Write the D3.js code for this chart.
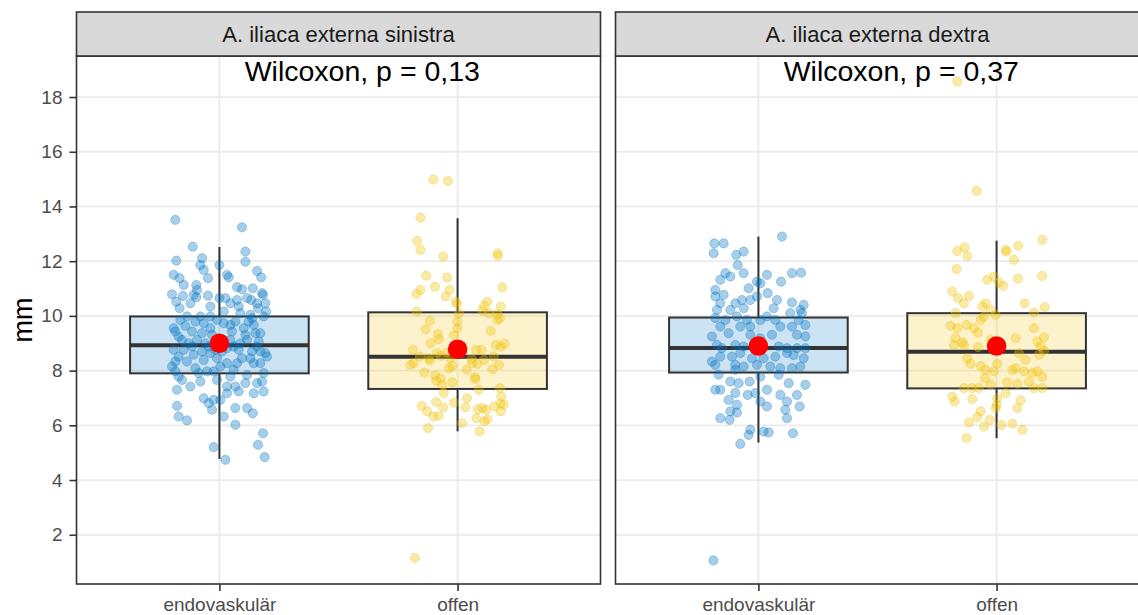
<!DOCTYPE html>
<html>
<head>
<meta charset="utf-8">
<script src="https://cdn.jsdelivr.net/npm/d3@7"></script>
<style>
  body { margin: 0; background: #fff; }
  svg { display: block; font-family: "Liberation Sans", Arial, sans-serif; }
</style>
</head>
<body>
<svg id="chart" width="1138" height="615"></svg>
<script>
// facets, groups, labels
const facets = ['A. iliaca externa sinistra', 'A. iliaca externa dextra'];
const categories = ['endovaskulär', 'offen'];
const pLabels = ['Wilcoxon, p = 0,13', 'Wilcoxon, p = 0,37'];
const yTicks = [2, 4, 6, 8, 10, 12, 14, 16, 18];
const groupColors = ['#0073C2', '#EFC000'];

// box stats: [lower whisker, q1, median, q3, upper whisker, mean]
const sinEndoStats = [4.77, 7.90, 8.93, 9.98, 12.52, 9.00];
const sinOffenStats = [5.78, 7.33, 8.51, 10.13, 13.57, 8.78];
const dexEndoStats = [5.37, 7.93, 8.83, 9.94, 12.90, 8.90];
const dexOffenStats = [5.53, 7.35, 8.69, 10.10, 12.75, 8.90];

// jittered observations: [jitter (category units), mm]
const sinEndo = [
  [-0.185,13.51],[0.095,13.24],[-0.112,12.53],[0.109,12.35],[0.109,11.98],[-0.181,12.02],[-0.073,12.11],[-0.08,11.86],[-0.066,11.68],[0,11.86],
  [-0.192,11.5],[-0.167,11.38],[0.032,11.5],[0.039,11.41],[0.158,11.64],[0.175,11.41],[-0.048,11.38],[-0.097,11.13],[-0.199,10.79],[-0.153,10.73],
  [-0.108,10.77],[-0.097,10.68],[-0.048,10.74],[0,10.65],[0.025,10.65],[0.074,11.05],[0.095,10.97],[0.14,11.01],[0.179,10.83],[0.183,10.77],
  [-0.181,10.52],[-0.167,10.28],[0.074,10.58],[0.081,10.34],[0.116,10.65],[0.134,10.58],[0.158,10.46],[0.162,10.28],[0.193,10.46],[0.196,10.16],
  [0.13,10.04],[0.137,9.91],[0.186,9.98],[-0.136,9.98],[-0.08,9.98],[-0.038,9.98],[0.018,10.16],[-0.192,9.55],[-0.185,9.43],[-0.171,9.24],
  [-0.143,9.63],[-0.115,9.43],[-0.073,9.37],[-0.038,9.55],[-0.031,9.31],[-0.066,9.73],[0.018,9.73],[0.046,9.67],[0.067,9.79],[0.102,9.55],
  [0.123,9.79],[0.144,9.67],[0.151,9.37],[0.165,9.06],[-0.192,8.76],[-0.185,8.33],[-0.15,8.76],[-0.115,8.88],[-0.108,8.58],[-0.073,8.7],
  [-0.059,9.0],[-0.038,8.64],[-0.017,8.76],[0.011,8.7],[0.046,9.12],[0.06,8.88],[0.081,8.76],[0.088,9.0],[0.116,9.12],[0.137,8.7],
  [0.172,8.7],[0.193,8.64],[0.158,8.88],[-0.185,7.97],[-0.171,7.78],[-0.157,7.66],[-0.087,7.91],[-0.052,7.97],[-0.024,7.97],[0.004,8.15],
  [0.046,7.78],[0.074,8.27],[0.116,7.84],[0.144,8.27],[0.172,8.27],[0.186,7.91],[-0.178,7.3],[-0.122,7.42],[-0.08,7.6],[-0.01,7.66],
  [0.032,7.42],[0.067,7.42],[0.081,7.24],[0.109,7.54],[0.144,7.17],[0.158,7.54],[0.179,7.6],[0.186,7.24],[-0.066,6.99],[-0.045,6.81],
  [-0.024,6.93],[-0.031,6.57],[0.004,6.93],[0.032,7.17],[0.018,6.32],[0.067,6.63],[0.116,6.63],[0.14,6.44],[-0.178,6.71],[-0.171,6.32],
  [-0.136,6.18],[0.067,6.02],[0.183,5.71],[0.162,5.29],[0.19,4.84],[-0.024,5.2],[0.025,4.74],
  [-0.157,9.12],[-0.129,9.0],[-0.094,9.12],[-0.045,8.88],[0.032,8.82],[0.053,9.43],[0.109,9.31],[0.172,9.37],[-0.171,8.51],[-0.136,8.33],
  [-0.066,8.39],[-0.01,8.45],[0.032,8.27],[0.095,8.45],[0.13,8.45],[0.2,8.51],[-0.199,8.15],[-0.101,8.09],[0.06,8.03],[-0.164,9.85],
  [-0.101,9.79],[-0.01,9.85],[0.088,10.1],[0.046,10.46],[-0.122,10.46],[-0.038,10.34],[-0.094,10.95],[-0.15,11.13]
];
const sinOffen = [
  [-0.102,14.99],[-0.041,14.93],[-0.156,13.59],[-0.17,12.74],[-0.156,12.41],[-0.06,12.17],[0.169,12.29],[0.169,12.19],[-0.132,11.47],[-0.044,11.4],
  [-0.095,11.07],[0.188,11.04],[-0.156,10.95],[-0.172,10.8],[-0.034,10.95],[-0.05,10.71],[-0.008,10.52],[-0.001,10.44],[-0.172,10.16],[0.125,10.52],
  [0.111,10.37],[0.104,10.2],[0.132,10.1],[0.167,10.06],[0.181,10.34],[0.167,9.85],[0.178,9.91],[-0.116,9.82],[-0.134,9.51],[-0.001,9.79],
  [0.006,10.1],[0.139,9.45],[-0.083,9.33],[-0.079,9.15],[-0.113,9.0],[-0.015,9.29],[-0.188,8.76],[-0.158,8.52],[-0.121,8.45],[-0.116,8.37],
  [-0.071,8.54],[-0.044,8.66],[-0.03,8.45],[0.078,8.76],[0.1,8.76],[0.16,8.94],[0.181,8.88],[0.197,8.98],[0.059,8.43],[0.111,8.39],
  [0.083,8.24],[-0.198,8.21],[-0.036,8.09],[-0.022,8.17],[0.038,8.03],[0.146,8.05],[0.174,8.21],[-0.139,7.93],[-0.095,7.83],[-0.071,7.72],
  [-0.09,7.63],[-0.022,7.57],[0.073,7.76],[0.075,7.69],[0.089,7.3],[0.178,7.36],[0.183,7.05],[-0.151,6.71],[-0.128,6.51],[-0.102,6.32],
  [-0.079,6.35],[-0.09,6.85],[-0.06,6.66],[-0.015,6.83],[0.04,6.99],[0.033,6.66],[0.085,6.59],[0.104,6.63],[0.12,6.57],[0.155,6.69],
  [0.181,6.79],[0.194,6.75],[0.181,6.51],[0.079,6.26],[0.113,6.14],[0.125,6.22],[0.019,6.08],[-0.124,5.9],[0.093,5.78],[-0.064,7.48],
  [-0.058,7.18],[-0.001,9.55],[-0.184,8.27],[-0.086,8.64],[0.061,8.27],[0.152,8.52],[-0.179,1.15]
];
const dexEndo = [
  [0.099,12.9],[-0.185,12.65],[-0.146,12.65],[-0.188,12.29],[-0.093,12.23],[-0.062,12.35],[-0.087,11.86],[-0.062,11.56],[-0.139,11.56],[-0.16,11.32],
  [-0.118,11.44],[0.036,11.5],[0.095,11.25],[0.141,11.56],[0.179,11.58],[-0.006,11.25],[0.008,11.19],[-0.041,11.01],[-0.181,10.95],[-0.181,10.71],
  [-0.146,10.77],[0.039,10.83],[-0.034,10.58],[-0.069,10.58],[-0.097,10.46],[0.141,10.49],[0.19,10.4],[-0.16,10.46],[-0.174,10.22],[-0.118,10.22],
  [0.064,10.28],[-0.006,10.71],[0.176,10.22],[0.183,10.1],[0.134,10.1],[-0.181,9.92],[-0.139,9.85],[-0.09,9.98],[-0.048,9.85],[0.008,9.85],
  [0.036,9.98],[0.071,9.85],[0.169,9.85],[0.197,9.67],[-0.16,9.61],[-0.076,9.61],[-0.034,9.61],[0.092,9.61],[0.141,9.61],[-0.195,9.25],
  [-0.125,9.37],[-0.034,9.31],[0.057,9.31],[0.162,9.31],[0.197,9.25],[-0.174,8.94],[-0.153,8.82],[-0.097,8.94],[-0.062,8.88],[0.085,8.88],
  [0.12,8.82],[0.162,8.82],[0.197,8.82],[-0.195,8.33],[-0.181,8.21],[-0.16,8.51],[-0.111,8.51],[-0.076,8.64],[-0.027,8.45],[0.022,8.45],
  [0.071,8.51],[0.12,8.64],[0.148,8.57],[0.19,8.45],[-0.097,8.21],[-0.062,8.15],[-0.006,8.21],[0.05,8.15],[0.092,8.09],[0.141,8.09],
  [0.176,8.15],[-0.167,7.85],[-0.118,7.6],[-0.083,7.54],[-0.037,7.6],[0.008,7.78],[0.085,7.85],[0.127,7.54],[0.197,7.48],[-0.181,7.3],
  [-0.16,7.3],[-0.097,7.18],[-0.045,7.11],[-0.013,7.18],[0.036,7.3],[0.092,7.11],[0.162,7.11],[0.12,6.87],[-0.125,6.93],[-0.09,6.75],
  [-0.118,6.51],[-0.16,6.26],[-0.121,6.2],[-0.09,6.47],[0.008,6.87],[0.036,6.69],[0.113,6.57],[0.12,6.26],[0.173,6.69],[-0.034,5.84],
  [-0.041,5.65],[0.022,5.77],[0.043,5.74],[0.145,5.71],[-0.076,5.32],[-0.097,8.03],[0.008,9.18],[-0.062,10.28],[0.078,10.58],[-0.189,1.06]
];
const dexOffen = [
  [-0.084,14.57],[0.192,12.78],[-0.165,12.37],[-0.134,12.51],[-0.123,12.19],[0.038,12.41],[0.042,12.35],[0.091,12.56],[0.073,12.05],[-0.168,11.71],
  [0.191,11.46],[-0.039,11.32],[-0.011,11.44],[0.01,11.22],[0.028,11.1],[0.09,11.36],[-0.186,10.89],[-0.162,10.65],[-0.116,10.73],[-0.137,10.46],
  [-0.06,10.34],[-0.046,10.46],[-0.025,10.22],[0.118,10.46],[0.202,10.32],[0.157,10.12],[-0.172,10.1],[-0.004,10.04],[-0.053,9.97],[-0.067,9.85],
  [-0.193,9.64],[-0.165,9.55],[-0.126,9.67],[-0.095,9.55],[-0.078,9.39],[0.157,9.55],[0.199,9.22],[0.171,9.06],[0.08,9.19],[-0.179,8.94],
  [-0.144,9.03],[-0.137,8.94],[-0.078,8.86],[-0.025,9.12],[0.185,8.88],[0.199,8.73],[0.094,8.64],[0.178,8.58],[-0.123,8.45],[-0.109,8.25],
  [-0.067,8.17],[-0.046,8.03],[0.003,8.25],[-0.011,7.97],[0.066,8.03],[0.08,8.09],[0.115,7.97],[0.15,7.91],[0.171,7.97],[0.192,7.78],
  [-0.049,7.72],[-0.025,7.48],[-0.137,7.36],[-0.102,7.36],[-0.074,7.36],[0.045,7.57],[0.087,7.52],[0.136,7.6],[0.157,7.36],[0.192,7.36],
  [-0.186,7.05],[-0.176,6.87],[-0.102,6.96],[0.003,6.99],[0.001,6.75],[-0.004,6.63],[0.101,6.91],[0.087,6.63],[-0.067,6.51],[-0.081,6.3],
  [-0.116,6.1],[-0.028,6.2],[-0.053,5.96],[0.02,6.01],[0.066,6.06],[0.108,5.84],[-0.126,5.53],[-0.172,9.19],[0.122,8.39],[0.038,7.17],
  [-0.165,18.56]
];

const points = [[sinEndo, sinOffen], [dexEndo, dexOffen]];
const stats = [[sinEndoStats, sinOffenStats], [dexEndoStats, dexOffenStats]];

const svg = d3.select('#chart');
const panelTop = 56, panelBottom = 584, stripTop = 12;
const panelLeft = [76.5, 615.5], panelW = 524;
const boxWidth = 0.75; // in category steps
const labelOffset = 0.6; // Wilcoxon label, steps right of first group
const labelValue = 18.58;

const y = d3.scaleLinear().domain([0.2, 19.5]).range([panelBottom, panelTop]);

facets.forEach(function(facet, fi) {
  const left = panelLeft[fi];
  const x = d3.scalePoint().domain(categories).range([left, left + panelW]).padding(0.6);
  const step = x.step();
  const g = svg.append('g');

  // grid
  g.selectAll('.hgrid').data(yTicks).enter().append('line')
    .attr('x1', left).attr('x2', left + panelW)
    .attr('y1', d => y(d)).attr('y2', d => y(d))
    .attr('stroke', '#EBEBEB').attr('stroke-width', 1.8);
  g.selectAll('.vgrid').data(categories).enter().append('line')
    .attr('x1', d => x(d)).attr('x2', d => x(d))
    .attr('y1', panelTop).attr('y2', panelBottom)
    .attr('stroke', '#EBEBEB').attr('stroke-width', 1.8);

  // boxplots
  categories.forEach(function(cat, ci) {
    const s = stats[fi][ci];
    const cx = x(cat);
    const bw = boxWidth * step;
    const bg = g.append('g');
    bg.append('line')
      .attr('x1', cx).attr('x2', cx).attr('y1', y(s[4])).attr('y2', y(s[3]))
      .attr('stroke', '#333333').attr('stroke-width', 2);
    bg.append('line')
      .attr('x1', cx).attr('x2', cx).attr('y1', y(s[1])).attr('y2', y(s[0]))
      .attr('stroke', '#333333').attr('stroke-width', 2);
    bg.append('rect')
      .attr('x', cx - bw / 2).attr('width', bw)
      .attr('y', y(s[3])).attr('height', y(s[1]) - y(s[3]))
      .attr('fill', groupColors[ci]).attr('fill-opacity', 0.2)
      .attr('stroke', '#333333').attr('stroke-width', 2);
    bg.append('line')
      .attr('x1', cx - bw / 2).attr('x2', cx + bw / 2)
      .attr('y1', y(s[2])).attr('y2', y(s[2]))
      .attr('stroke', '#333333').attr('stroke-width', 4);
  });

  // jittered points
  categories.forEach(function(cat, ci) {
    g.append('g').selectAll('circle')
      .data(points[fi][ci]).enter().append('circle')
      .attr('cx', d => x(cat) + d[0] * step)
      .attr('cy', d => y(d[1]))
      .attr('r', 4.6)
      .attr('fill', groupColors[ci]).attr('fill-opacity', 0.34)
      .attr('stroke', groupColors[ci]).attr('stroke-opacity', 0.3).attr('stroke-width', 1);
  });

  // means
  g.selectAll('.mean').data(categories).enter().append('circle')
    .attr('cx', d => x(d))
    .attr('cy', (d, ci) => y(stats[fi][ci][5]))
    .attr('r', 9.8).attr('fill', '#FF0000');

  // test label
  g.append('text')
    .attr('x', x(categories[0]) + labelOffset * step)
    .attr('y', y(labelValue))
    .attr('text-anchor', 'middle')
    .attr('font-size', 28.5).attr('fill', '#000')
    .text(pLabels[fi]);

  // panel border
  g.append('rect')
    .attr('x', left).attr('y', panelTop).attr('width', panelW).attr('height', panelBottom - panelTop)
    .attr('fill', 'none').attr('stroke', '#333333').attr('stroke-width', 1.6);

  // strip
  g.append('rect')
    .attr('x', left).attr('y', stripTop).attr('width', panelW).attr('height', panelTop - stripTop)
    .attr('fill', '#D9D9D9').attr('stroke', '#333333').attr('stroke-width', 1.6);
  g.append('text')
    .attr('x', left + panelW / 2).attr('y', (stripTop + panelTop) / 2)
    .attr('dy', '0.35em').attr('text-anchor', 'middle')
    .attr('font-size', 22).attr('fill', '#1A1A1A')
    .text(facet);

  // x axis
  const xAxis = g.append('g')
    .attr('transform', 'translate(0,' + panelBottom + ')')
    .call(d3.axisBottom(x).tickSize(7).tickPadding(6.5));
  xAxis.select('.domain').remove();
  xAxis.selectAll('line').attr('stroke', '#333333').attr('stroke-width', 1.6);
  xAxis.selectAll('text').attr('font-size', 19).attr('fill', '#4D4D4D')
    .attr('font-family', '"Liberation Sans", Arial, sans-serif');

  // y axis on the first panel only
  if (fi === 0) {
    const yAxis = g.append('g')
      .attr('transform', 'translate(' + left + ',0)')
      .call(d3.axisLeft(y).tickValues(yTicks).tickSize(7).tickPadding(7));
    yAxis.select('.domain').remove();
    yAxis.selectAll('line').attr('stroke', '#333333').attr('stroke-width', 1.6);
    yAxis.selectAll('text').attr('font-size', 19).attr('fill', '#4D4D4D')
      .attr('font-family', '"Liberation Sans", Arial, sans-serif');
  }
});

svg.append('text')
  .attr('transform', 'translate(32,' + (panelTop + panelBottom) / 2 + ') rotate(-90)')
  .attr('text-anchor', 'middle')
  .attr('font-size', 27).attr('fill', '#000')
  .text('mm');
</script>
</body>
</html>
